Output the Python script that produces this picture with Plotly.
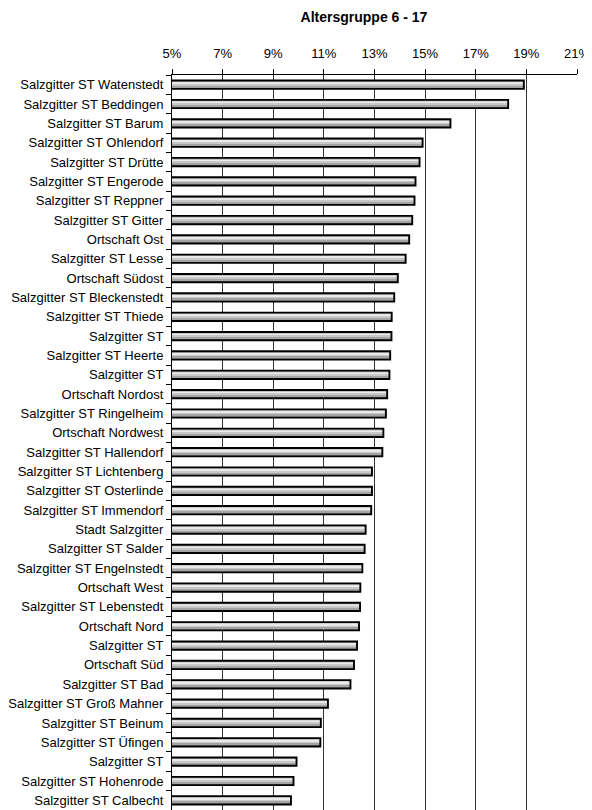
import plotly.graph_objects as go

labels = [
    "Salzgitter ST Watenstedt", "Salzgitter ST Beddingen", "Salzgitter ST Barum",
    "Salzgitter ST Ohlendorf", "Salzgitter ST Drütte", "Salzgitter ST Engerode",
    "Salzgitter ST Reppner", "Salzgitter ST Gitter", "Ortschaft Ost",
    "Salzgitter ST Lesse", "Ortschaft Südost", "Salzgitter ST Bleckenstedt",
    "Salzgitter ST Thiede", "Salzgitter ST", "Salzgitter ST Heerte",
    "Salzgitter ST", "Ortschaft Nordost", "Salzgitter ST Ringelheim",
    "Ortschaft Nordwest", "Salzgitter ST Hallendorf", "Salzgitter ST Lichtenberg",
    "Salzgitter ST Osterlinde", "Salzgitter ST Immendorf", "Stadt Salzgitter",
    "Salzgitter ST Salder", "Salzgitter ST Engelnstedt", "Ortschaft West",
    "Salzgitter ST Lebenstedt", "Ortschaft Nord", "Salzgitter ST",
    "Ortschaft Süd", "Salzgitter ST Bad", "Salzgitter ST Groß Mahner",
    "Salzgitter ST Beinum", "Salzgitter ST Üfingen", "Salzgitter ST",
    "Salzgitter ST Hohenrode", "Salzgitter ST Calbecht",
]

values = [
    18.90, 18.28, 16.00, 14.90, 14.78, 14.62, 14.58, 14.49, 14.37, 14.23,
    13.92, 13.78, 13.68, 13.67, 13.62, 13.59, 13.50, 13.45, 13.35, 13.31,
    12.90, 12.90, 12.87, 12.65, 12.61, 12.52, 12.44, 12.43, 12.39, 12.31,
    12.19, 12.05, 11.16, 10.88, 10.86, 9.92, 9.80, 9.70,
]

x_ticks = [5, 7, 9, 11, 13, 15, 17, 19, 21]
title_text = "Altersgruppe 6 - 17"

positions = list(range(len(labels)))
boundaries = [p - 0.5 for p in positions] + [len(labels) - 0.5]

FONT = "Liberation Sans, Arial, sans-serif"
BAR_W = 0.43

# page body has an 8px margin: size the figure so the plot lands where the reference has it
FIG_W, FIG_H = 584, 802

# stripes (top -> bottom on screen) as (start fraction, end fraction, colour)
stripes = [
    (0.00, 1.00, "#888888"),
    (0.00, 0.18, "#b0b0b0"),
    (0.18, 0.48, "#eaeaea"),
    (0.48, 0.68, "#c8c8c8"),
    (0.68, 0.85, "#a4a4a4"),
]

fig = go.Figure()
for s0, s1, col in stripes:
    fig.add_trace(go.Bar(
        x=values, y=positions, orientation="h",
        width=BAR_W * (s1 - s0), offset=-BAR_W / 2 + BAR_W * s0,
        marker=dict(color=col, line=dict(width=0)),
        showlegend=False, hoverinfo="skip",
    ))
fig.add_trace(go.Bar(
    x=values, y=positions, orientation="h",
    width=BAR_W, offset=-BAR_W / 2,
    marker=dict(color="rgba(0,0,0,0)", line=dict(color="black", width=1.9)),
    showlegend=False, hoverinfo="x+y",
))

fig.update_layout(
    width=FIG_W, height=FIG_H,
    margin=dict(l=164, r=15, t=67, b=0),
    paper_bgcolor="white", plot_bgcolor="white",
    barmode="overlay",
    font=dict(family=FONT, size=13, color="black"),
    title=dict(text=title_text, x=0.474, xref="paper", xanchor="center",
               y=1 - 9 / FIG_H, yref="container", yanchor="middle",
               font=dict(family=FONT, size=14, color="black", weight="bold")),
    xaxis=dict(
        side="top", range=[5, 21], tickvals=x_ticks,
        ticktext=[f"{t}%" for t in x_ticks],
        showgrid=True, gridcolor="#333333", gridwidth=1,
        showline=True, linecolor="black", linewidth=1,
        ticks="outside", ticklen=5, tickcolor="black",
        ticklabelstandoff=6,
        zeroline=False, tickfont=dict(size=13),
    ),
    yaxis=dict(
        range=[len(labels) - 0.5, -0.5], tickvals=positions, ticktext=labels,
        ticks="", showgrid=False, zeroline=False,
        showline=True, linecolor="black", linewidth=1,
        minor=dict(tickvals=boundaries, ticks="outside", ticklen=5,
                   tickcolor="black", showgrid=False),
        ticklabelstandoff=5,
        tickfont=dict(size=13),
    ),
)

fig.write_html(
    "out.html",
    post_script="document.documentElement.style.overflow='hidden';"
                "document.body.style.overflow='hidden';",
)
